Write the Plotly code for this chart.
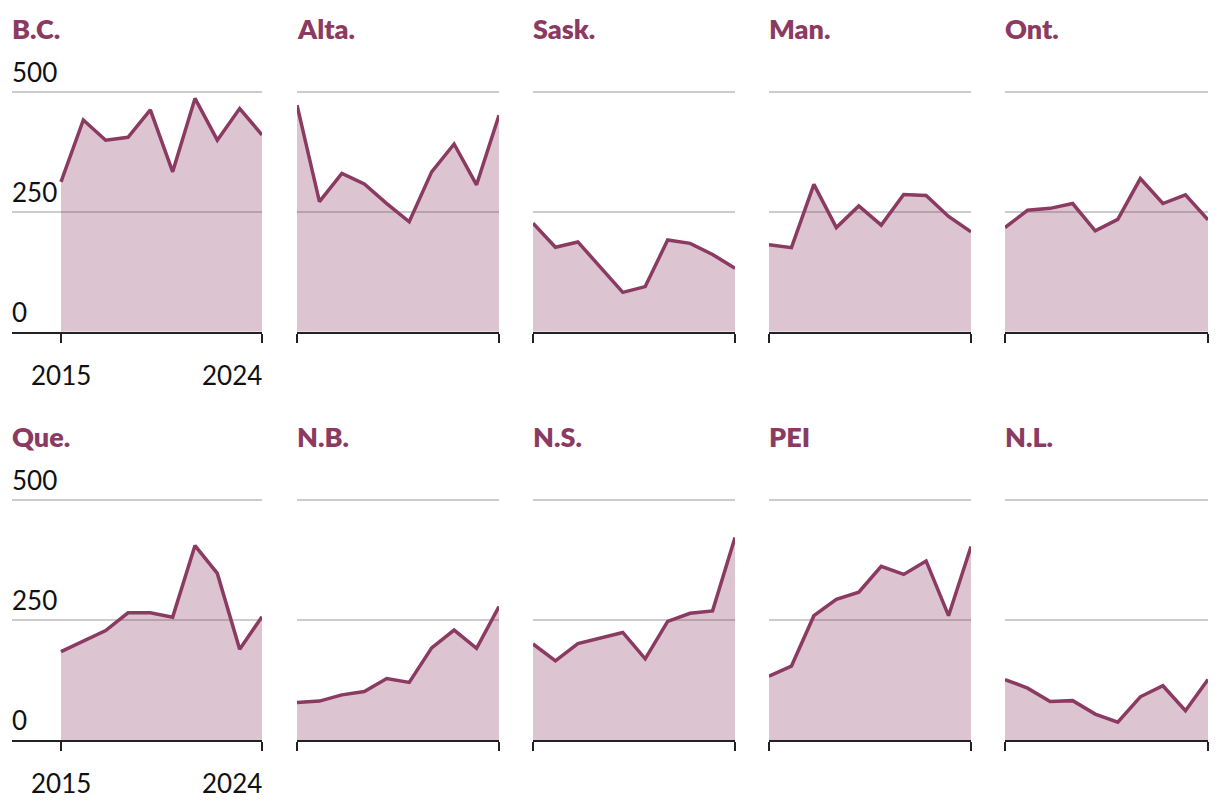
import plotly.graph_objects as go

# ---------------- data ----------------
years = [2015, 2016, 2017, 2018, 2019, 2020, 2021, 2022, 2023, 2024]
year_tick_vals = [2015, 2024]
year_tick_text = ["2015", "2024"]
y_tick_vals = [0, 250, 500]
y_tick_text = ["0", "250", "500"]

provinces = ["B.C.", "Alta.", "Sask.", "Man.", "Ont.",
             "Que.", "N.B.", "N.S.", "PEI", "N.L."]

bc = [312, 441, 399, 405, 462, 333, 486, 399, 465, 410]
alta = [472, 271, 330, 308, 267, 229, 333, 391, 306, 451]
sask = [226, 176, 187, 135, 82, 94, 191, 184, 161, 132]
man = [181, 175, 307, 217, 262, 222, 286, 284, 240, 208]
ont = [217, 253, 257, 267, 210, 234, 319, 267, 285, 233]
que = [184, 205, 228, 265, 265, 256, 405, 347, 189, 257]
nb = [78, 81, 94, 101, 128, 120, 192, 229, 191, 278]
ns = [200, 165, 201, 212, 224, 169, 247, 264, 269, 422]
pei = [133, 154, 259, 293, 308, 362, 345, 373, 259, 403]
nl = [126, 108, 80, 82, 54, 37, 90, 113, 61, 126]

series = [bc, alta, sask, man, ont, que, nb, ns, pei, nl]

# ---------------- style ----------------
LINE = "#8B3A62"
FILL = "rgba(139,58,98,0.30)"
GRID = "#cccccc"
AXIS = "#222222"
TEXT = "#111111"
FONT = "Lato"

# page body has an 8px margin; the figure sits inside it
OFF = 8
W, H = 1220 - 2 * OFF, 806 - 2 * OFF
col_left_px = [12, 297, 533, 769, 1005]
data_left_px = [61, 297, 533, 769, 1005]
data_right_px = [262, 499, 735, 971, 1208]
row_base_px = [331.7, 740.0]
px_per_unit = 240.0 / 500.0
y_max = 510
year_anchor = ["center", "right"]
year_xshift = [0, 2]

fig = go.Figure()
annotations = []

for i, (name, vals) in enumerate(zip(provinces, series)):
    r, c = divmod(i, 5)
    s = "" if i == 0 else str(i + 1)
    xa, ya = "x" + s, "y" + s

    fig.add_trace(go.Scatter(
        x=years, y=vals, mode="lines",
        line=dict(color=LINE, width=3.5),
        fill="tozeroy", fillcolor=FILL,
        xaxis=xa, yaxis=ya, hoverinfo="skip", showlegend=False,
    ))

    span_years = years[-1] - years[0]
    data_w = data_right_px[c] - data_left_px[c]
    x_lo = years[0] - span_years * (data_left_px[c] - col_left_px[c]) / data_w
    bottom = row_base_px[r] - OFF
    top = bottom - px_per_unit * y_max
    fig.layout["xaxis" + s] = dict(
        domain=[(col_left_px[c] - OFF) / W, (data_right_px[c] - OFF) / W],
        range=[x_lo, years[-1]], anchor=ya,
        tickvals=year_tick_vals, ticktext=year_tick_text,
        ticks="outside", ticklen=9, tickwidth=2, tickcolor=AXIS,
        showline=True, linecolor=AXIS, linewidth=2,
        showgrid=False, zeroline=False, showticklabels=False,
        fixedrange=True,
    )
    fig.layout["yaxis" + s] = dict(
        domain=[1 - bottom / H, 1 - top / H],
        range=[0, y_max], anchor=xa,
        tickvals=y_tick_vals, showgrid=True, gridcolor=GRID, gridwidth=2,
        showticklabels=False, zeroline=False, showline=False, ticks="",
        fixedrange=True,
    )

    # panel title
    annotations.append(dict(
        text=name, xref=xa + " domain", x=0, xanchor="left",
        yref=ya + " domain", y=1, yanchor="bottom", yshift=40,
        showarrow=False, xshift=-2,
        font=dict(family=FONT, size=27, color=LINE, weight=800),
    ))

    if c == 0:
        # y value labels above the grid lines
        for v, t in zip(y_tick_vals, y_tick_text):
            annotations.append(dict(
                text=t, xref=xa + " domain", x=0, xanchor="left",
                yref=ya, y=v, yanchor="bottom", yshift=2, xshift=-2,
                showarrow=False,
                font=dict(family=FONT, size=26, color=TEXT),
            ))
        # year labels under the first and last ticks
        for v, t, anc, xs in zip(year_tick_vals, year_tick_text,
                                 year_anchor, year_xshift):
            annotations.append(dict(
                text=t, xref=xa, x=v, xanchor=anc, xshift=xs,
                yref=ya + " domain", y=0, yanchor="top", yshift=-25,
                showarrow=False,
                font=dict(family=FONT, size=26, color=TEXT),
            ))

fig.update_layout(
    width=W, height=H,
    margin=dict(l=0, r=0, t=0, b=0),
    paper_bgcolor="white", plot_bgcolor="white",
    showlegend=False, annotations=annotations,
    font=dict(family=FONT),
)

fig.write_html("out.html")
